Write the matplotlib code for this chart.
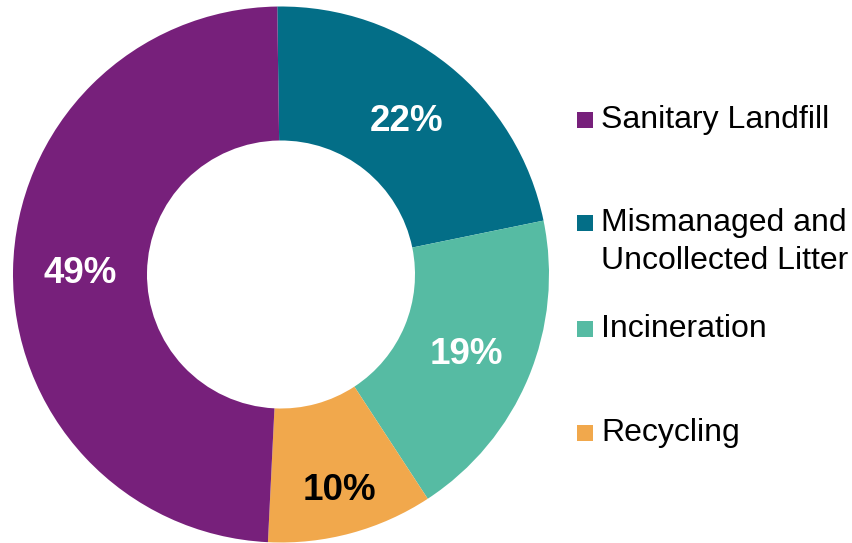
import matplotlib.pyplot as plt
import numpy as np
from matplotlib.patches import Rectangle

# Data (clockwise from top)
labels = ['Mismanaged and\nUncollected Litter', 'Incineration', 'Recycling', 'Sanitary Landfill']
shares = [22, 19, 10, 49]
colors = ['#036E87', '#56BBA3', '#F1A84C', '#77207B']
pct_colors = ['white', 'white', 'black', 'white']
pct_radius = [0.745, 0.75, 0.825, 0.75]

# legend order as in the picture
legend_order = ['Sanitary Landfill', 'Mismanaged and\nUncollected Litter', 'Incineration', 'Recycling']

plt.rcParams['font.family'] = ['Liberation Sans', 'DejaVu Sans']

W, H = 853, 543
fig = plt.figure(figsize=(W / 100, H / 100), dpi=100)

cx, cy, R = 281, 274.5, 268
ax = fig.add_axes([(cx - R) / W, (H - cy - R) / H, 2 * R / W, 2 * R / H])
wedges, _ = ax.pie(shares, colors=colors, startangle=90.8, counterclock=False,
                   radius=1, wedgeprops=dict(width=0.5, linewidth=0))
ax.set_xlim(-1, 1)
ax.set_ylim(-1, 1)
ax.set_aspect('equal')

# percentage labels
for w, s, c, r in zip(wedges, shares, pct_colors, pct_radius):
    ang = np.deg2rad((w.theta1 + w.theta2) / 2)
    ax.text(r * np.cos(ang), r * np.sin(ang) - 0.01, f'{s}%', color=c, fontsize=26.5,
            fontweight='bold', ha='center', va='center')

# legend drawn by hand so the marker sits on the first text line
rows_y = [120, 223, 329, 433]
for name, y in zip(legend_order, rows_y):
    col = colors[labels.index(name)]
    fig.patches.append(Rectangle((577 / W, (H - y - 8) / H), 16 / W, 16 / H,
                                 transform=fig.transFigure, facecolor=col, edgecolor='none'))
    fig.text(601 / W, (H - y) / H, name.split('\n')[0], fontsize=23, va='center', ha='left')
    if '\n' in name:
        fig.text(601 / W, (H - y - 38) / H, name.split('\n')[1], fontsize=23, va='center', ha='left')

fig.savefig('out.png', dpi=100)
